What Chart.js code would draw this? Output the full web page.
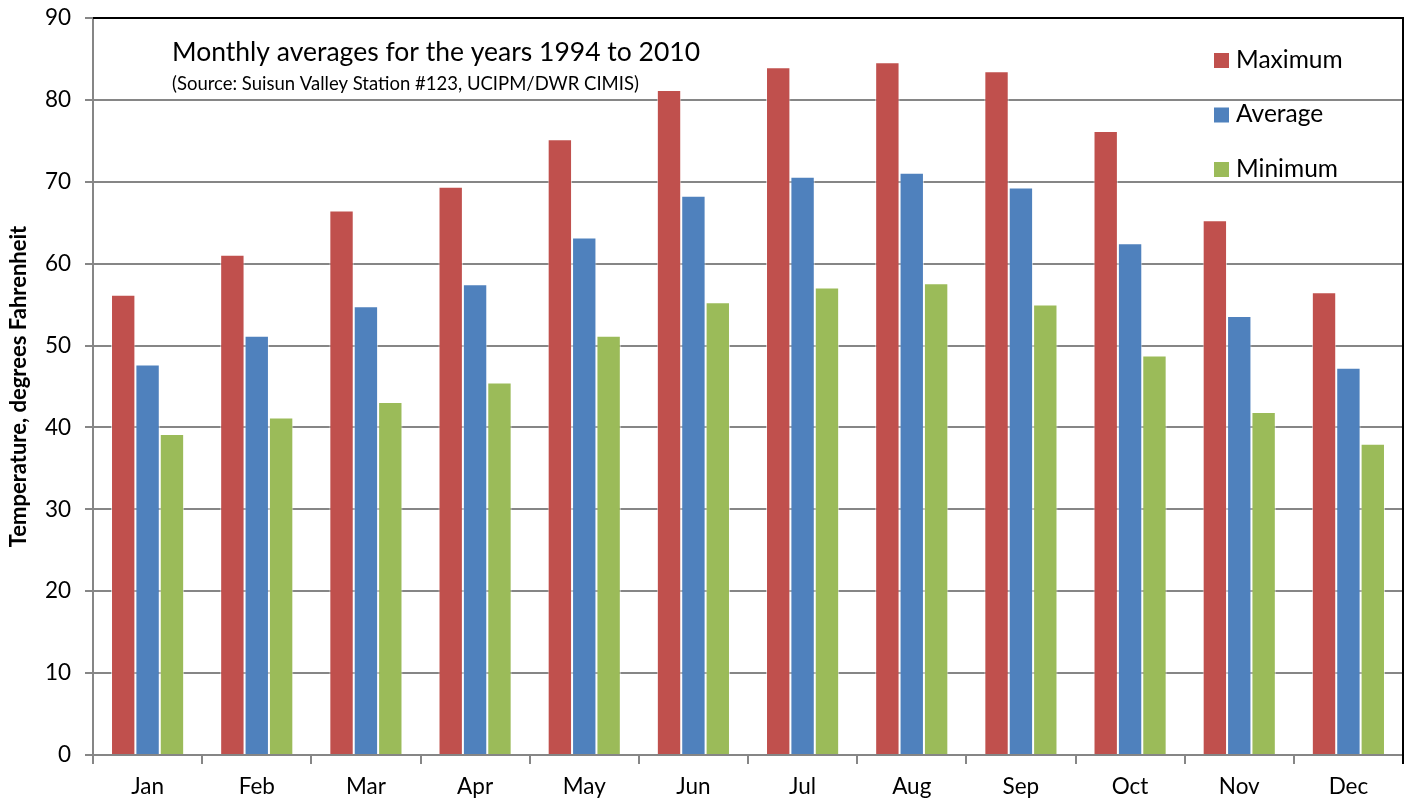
<!DOCTYPE html>
<html>
<head>
<meta charset="utf-8">
<script src="https://cdn.jsdelivr.net/npm/chart.js@4"></script>
<style>
  html, body { margin: 0; padding: 0; background: #fff; }
  #wrap { width: 1416px; height: 806px; }
</style>
</head>
<body>
<div id="wrap"><canvas id="chart" width="1416" height="806"></canvas></div>
<script>
const months = ['Jan', 'Feb', 'Mar', 'Apr', 'May', 'Jun', 'Jul', 'Aug', 'Sep', 'Oct', 'Nov', 'Dec'];
const maximum = [56.2, 61.1, 66.5, 69.4, 75.2, 81.2, 84.0, 84.6, 83.5, 76.2, 65.3, 56.5];
const average = [47.7, 51.2, 54.8, 57.5, 63.2, 68.3, 70.6, 71.1, 69.3, 62.5, 53.6, 47.3];
const minimum = [39.2, 41.2, 43.1, 45.5, 51.2, 55.3, 57.1, 57.6, 55.0, 48.8, 41.9, 38.0];
const seriesNames = ['Maximum', 'Average', 'Minimum'];
const seriesColors = ['#C0504D', '#4F81BD', '#9BBB59'];

const FONT = 'Lato, "Open Sans", sans-serif';
const GRID = '#868686';

// title, source note, legend and the black frame edges
const decorations = {
  id: 'decorations',
  afterDraw(chart) {
    const { ctx, chartArea } = chart;
    ctx.save();
    ctx.strokeStyle = '#000';
    ctx.lineWidth = 2;
    ctx.beginPath();
    ctx.moveTo(chartArea.left, chartArea.top);
    ctx.lineTo(chartArea.right, chartArea.top);
    ctx.lineTo(chartArea.right, chartArea.bottom + 9);
    ctx.stroke();

    ctx.fillStyle = '#000';
    ctx.textBaseline = 'middle';
    ctx.textAlign = 'left';
    ctx.font = '26.5px ' + FONT;
    ctx.fillText('Monthly averages for the years 1994 to 2010', 172, 52);
    ctx.font = '18.5px ' + FONT;
    ctx.fillText('(Source: Suisun Valley Station #123, UCIPM/DWR CIMIS)', 172, 84);

    ctx.font = '24.5px ' + FONT;
    chart.data.datasets.forEach((ds, i) => {
      const y = 60 + i * 54.5;
      ctx.fillStyle = ds.backgroundColor;
      ctx.fillRect(1214, y - 7, 15, 15);
      ctx.fillStyle = '#000';
      ctx.fillText(ds.label, 1236, y);
    });
    ctx.restore();
  }
};

new Chart(document.getElementById('chart'), {
  type: 'bar',
  data: {
    labels: months,
    datasets: [maximum, average, minimum].map((values, i) => ({
      label: seriesNames[i],
      data: values,
      backgroundColor: seriesColors[i],
      borderColor: 'rgba(255,255,255,0.6)',
      borderWidth: { top: 1, left: 1, right: 1, bottom: 0 },
      categoryPercentage: 0.67,
      barPercentage: 1.0,
    })),
  },
  options: {
    responsive: false,
    animation: false,
    layout: { padding: { top: 18, right: 13, left: 6, bottom: 0 } },
    plugins: {
      legend: { display: false },
      tooltip: { enabled: false },
    },
    scales: {
      x: {
        grid: {
          offset: true,
          drawOnChartArea: false,
          drawTicks: true,
          tickLength: 9,
          color: GRID,
          lineWidth: 2,
        },
        border: { color: GRID, width: 2 },
        ticks: { color: '#000', font: { family: FONT, size: 22.5 }, padding: 9 },
        afterFit: (s) => { s.height = 51; },
      },
      y: {
        min: 0,
        max: 90,
        ticks: { stepSize: 10, color: '#000', font: { family: FONT, size: 22.5 }, padding: 14 },
        grid: { color: GRID, lineWidth: 2, tickLength: 8 },
        border: { color: GRID, width: 2 },
        title: {
          display: true,
          text: 'Temperature, degrees Fahrenheit',
          color: '#000',
          font: { family: FONT, size: 22, weight: 'bold' },
          padding: { top: 0, bottom: 0 },
        },
        afterFit: (s) => {
          s.width = 87;
          s.paddingTop = 0;
          s.paddingBottom = 0;
        },
      },
    },
  },
  plugins: [decorations],
});
</script>
</body>
</html>
